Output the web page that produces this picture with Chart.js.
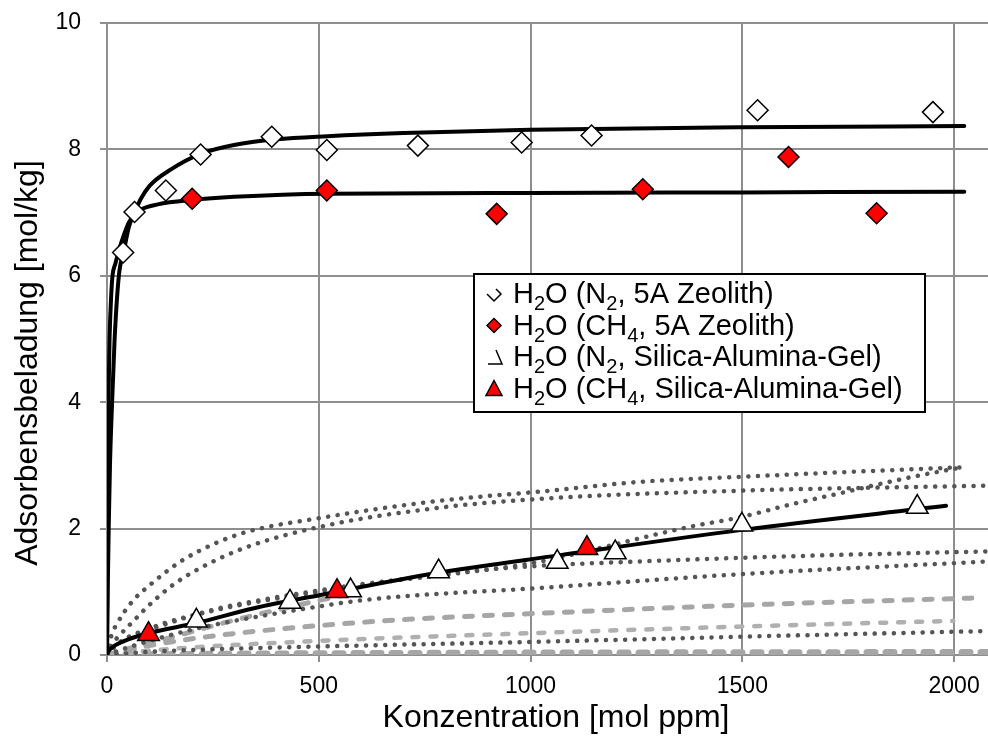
<!DOCTYPE html>
<html>
<head>
<meta charset="utf-8">
<script src="https://cdn.jsdelivr.net/npm/chart.js@4.4.0/dist/chart.umd.min.js"></script>
<style>
  html, body { margin: 0; padding: 0; background: #fff; overflow: hidden; }
  #wrap { width: 988px; height: 744px; overflow: hidden; }
</style>
</head>
<body>
<div id="wrap"><canvas id="myChart" width="1002" height="744"></canvas></div>
<script>
// legend labels, "_x" marks a subscript character
const seriesNames = [
  'H_2O (N_2, 5A Zeolith)',
  'H_2O (CH_4, 5A Zeolith)',
  'H_2O (N_2, Silica-Alumina-Gel)',
  'H_2O (CH_4, Silica-Alumina-Gel)'
];
const xTitle = 'Konzentration [mol ppm]';
const yTitle = 'Adsorbensbeladung [mol/kg]';
const xTicks = [0, 500, 1000, 1500, 2000];
const yTicks = [0, 2, 4, 6, 8, 10];

// measured points
const n2ZeoX = [38, 65, 139, 221, 389, 519, 734, 979, 1144, 1536, 1950];
const n2ZeoY = [6.37, 7.01, 7.35, 7.92, 8.20, 7.99, 8.06, 8.11, 8.22, 8.62, 8.59];
const ch4ZeoX = [201, 519, 920, 1265, 1609, 1817];
const ch4ZeoY = [7.22, 7.35, 6.98, 7.37, 7.88, 6.99];
const n2GelX = [211, 432, 575, 783, 1063, 1200, 1499, 1913];
const n2GelY = [0.54, 0.84, 1.02, 1.32, 1.47, 1.62, 2.06, 2.34];
const ch4GelX = [98, 543, 1133];
const ch4GelY = [0.33, 1.01, 1.69];

// fitted isotherms (black)
const fitN2ZeoX = [0, 1, 2, 4, 7, 12, 18, 28, 40, 52, 65, 80, 100, 150, 221, 300, 400, 520, 700, 1000, 1500, 2024];
const fitN2ZeoY = [0, 0.6, 1.15, 2.0, 3.0, 4.0, 5.0, 6.0, 6.4, 6.78, 7.0, 7.22, 7.42, 7.68, 7.93, 8.07, 8.16, 8.21, 8.26, 8.31, 8.35, 8.37];
const fitCh4ZeoX = [0, 0.5, 1, 2, 3.4, 6, 10, 13, 20, 28, 40, 52, 65, 80, 120, 201, 300, 519, 1000, 1500, 2024];
const fitCh4ZeoY = [0, 1.1, 2.0, 3.2, 4.0, 5.0, 5.7, 6.0, 6.2, 6.4, 6.65, 6.85, 6.97, 7.05, 7.13, 7.2, 7.25, 7.3, 7.31, 7.32, 7.33];
const fitGelX = [0, 3, 10, 40, 95, 213, 347, 504, 771, 1070, 1499, 1981];
const fitGelY = [0, 0.05, 0.11, 0.22, 0.34, 0.51, 0.74, 0.95, 1.29, 1.58, 1.98, 2.36];

// other isotherms, dark dotted
const dotAX = [0, 10, 24, 60, 100, 174, 250, 331, 496, 771, 1046, 1259, 1499, 1731, 2018];
const dotAY = [0, 0.3, 0.5, 0.85, 1.1, 1.48, 1.75, 1.95, 2.16, 2.43, 2.6, 2.74, 2.82, 2.89, 2.97];
const dotBX = [0, 10, 28, 60, 95, 150, 205, 323, 504, 771, 1046, 1495, 2080];
const dotBY = [0, 0.15, 0.3, 0.52, 0.76, 1.08, 1.32, 1.69, 2.03, 2.32, 2.48, 2.6, 2.68];
const dotCX = [0, 30, 123, 253, 363, 497, 600, 800, 1000, 1144, 1260, 1377, 1495, 1613, 1731, 1888, 2018];
const dotCY = [0, 0.2, 0.45, 0.72, 0.87, 1.02, 1.12, 1.27, 1.45, 1.66, 1.85, 2.03, 2.18, 2.38, 2.56, 2.8, 2.97];
const dotDX = [0, 20, 100, 250, 500, 849, 1046, 1259, 1600, 2080];
const dotDY = [0, 0.15, 0.42, 0.7, 1.0, 1.32, 1.42, 1.48, 1.56, 1.64];
const dotEX = [0, 50, 200, 456, 621, 1022, 1500, 2080];
const dotEY = [0, 0.12, 0.4, 0.72, 0.88, 1.06, 1.28, 1.48];
const dotFX = [0, 100, 300, 600, 1022, 1500, 2080];
const dotFY = [0, 0.05, 0.1, 0.15, 0.21, 0.29, 0.38];

// other isotherms, light grey dashed
const dashAX = [0, 100, 250, 456, 700, 1022, 1500, 2042];
const dashAY = [0, 0.15, 0.3, 0.44, 0.56, 0.66, 0.79, 0.9];
const dashBX = [0, 50, 141, 300, 471, 560];
const dashBY = [0, 0.1, 0.26, 0.55, 0.82, 0.95];
const dashCX = [0, 100, 456, 1022, 1500, 1998];
const dashCY = [0, 0.07, 0.21, 0.35, 0.45, 0.54];
const dashDX = [0, 500, 1000, 2080];
const dashDY = [0, 0.02, 0.03, 0.04];

const pts = (xs, ys) => xs.map((x, i) => ({ x: x, y: ys[i] }));

const marker = (data, style, fill, r) => ({
  data: data, showLine: false, pointStyle: style, pointRadius: r, pointHoverRadius: r,
  backgroundColor: fill, borderColor: '#000', pointBorderWidth: 1.5
});
const curve = (data, color, width, dash) => ({
  data: data, showLine: true, pointRadius: 0, borderColor: color, borderWidth: width,
  borderDash: dash, borderCapStyle: 'round', cubicInterpolationMode: 'monotone', fill: false
});

const DOT = [0.1, 9.5];
const DASH = [8, 12];
const FONT = '"Liberation Sans", Arial, sans-serif';

// axis titles and the legend with subscripts
const textPlugin = {
  id: 'textPlugin',
  afterDraw(chart) {
    const ctx = chart.ctx;
    ctx.save();
    ctx.fillStyle = '#000';
    ctx.font = '32px ' + FONT;
    ctx.textAlign = 'center';
    ctx.textBaseline = 'middle';
    ctx.fillText(xTitle, 556, 718);
    ctx.translate(28, 363);
    ctx.rotate(-Math.PI / 2);
    ctx.fillText(yTitle, 0, 0);
    ctx.restore();

    ctx.save();
    ctx.fillStyle = '#fff';
    ctx.fillRect(474, 274, 451, 138);
    ctx.lineWidth = 2;
    ctx.strokeStyle = '#000';
    ctx.strokeRect(474, 274, 451, 138);

    const baselines = [303, 334.5, 366, 397.5];
    baselines.forEach((b, i) => {
      // markers, drawn the way the original legend shows them
      const mx = 494, my = b - 9;
      ctx.lineWidth = 1.5;
      ctx.strokeStyle = '#000';
      ctx.beginPath();
      if (i === 0) {
        ctx.moveTo(mx - 7, my); ctx.lineTo(mx, my + 7); ctx.lineTo(mx + 7, my); ctx.lineTo(mx + 2, my - 5);
        ctx.stroke();
      } else if (i === 1) {
        ctx.moveTo(mx, my - 7); ctx.lineTo(mx + 7, my); ctx.lineTo(mx, my + 7); ctx.lineTo(mx - 7, my); ctx.closePath();
        ctx.fillStyle = '#ff0000'; ctx.fill(); ctx.stroke();
      } else if (i === 2) {
        ctx.moveTo(mx + 2, my - 7); ctx.lineTo(mx + 8, my + 7); ctx.lineTo(mx - 6, my + 7);
        ctx.stroke();
      } else {
        ctx.moveTo(mx, my - 8); ctx.lineTo(mx + 8, my + 7); ctx.lineTo(mx - 8, my + 7); ctx.closePath();
        ctx.fillStyle = '#ff0000'; ctx.fill(); ctx.stroke();
      }
      // label with subscripts
      let x = 513;
      ctx.fillStyle = '#000';
      ctx.textBaseline = 'alphabetic';
      const s = seriesNames[i];
      for (let k = 0; k < s.length; k++) {
        if (s[k] === '_') {
          k++;
          ctx.font = '20px ' + FONT;
          ctx.fillText(s[k], x, b + 7);
          x += ctx.measureText(s[k]).width;
        } else {
          ctx.font = '29px ' + FONT;
          ctx.fillText(s[k], x, b);
          x += ctx.measureText(s[k]).width;
        }
      }
    });
    ctx.restore();
  }
};

const gridColor = '#8e8e8e';
const tickFont = { family: FONT, size: 23 };

new Chart(document.getElementById('myChart'), {
  type: 'scatter',
  data: {
    datasets: [
      marker(pts(ch4GelX, ch4GelY), 'triangle', '#ff0000', 12.5),
      marker(pts(n2GelX, n2GelY), 'triangle', '#ffffff', 12.5),
      marker(pts(ch4ZeoX, ch4ZeoY), 'rectRot', '#ff0000', 10.5),
      marker(pts(n2ZeoX, n2ZeoY), 'rectRot', '#ffffff', 10.5),
      curve(pts(fitN2ZeoX, fitN2ZeoY), '#000', 4, []),
      curve(pts(fitCh4ZeoX, fitCh4ZeoY), '#000', 4, []),
      curve(pts(fitGelX, fitGelY), '#000', 4, []),
      curve(pts(dotAX, dotAY), '#555555', 4.5, DOT),
      curve(pts(dotBX, dotBY), '#555555', 4.5, DOT),
      curve(pts(dotCX, dotCY), '#555555', 4.5, DOT),
      curve(pts(dotDX, dotDY), '#555555', 4.5, DOT),
      curve(pts(dotEX, dotEY), '#555555', 4.5, DOT),
      curve(pts(dotFX, dotFY), '#555555', 4.5, DOT),
      curve(pts(dashAX, dashAY), '#a6a6a6', 5, DASH),
      curve(pts(dashBX, dashBY), '#a6a6a6', 5, DASH),
      curve(pts(dashCX, dashCY), '#b0b0b0', 4.5, [6, 12]),
      curve(pts(dashDX, dashDY), '#a6a6a6', 7, [8, 11])
    ]
  },
  options: {
    responsive: false,
    animation: false,
    layout: { padding: { top: 23, right: 0, left: 0, bottom: 0 } },
    plugins: { legend: { display: false }, tooltip: { enabled: false } },
    scales: {
      x: {
        type: 'linear', min: 0, max: 2080,
        afterBuildTicks: (s) => { s.ticks = xTicks.map(v => ({ value: v })); },
        afterFit: (s) => { s.height = 89; s.paddingLeft = 0; s.paddingRight = 0; },
        grid: { color: gridColor, lineWidth: 2, tickLength: 7 },
        border: { color: gridColor, width: 2 },
        ticks: { color: '#000', font: tickFont, padding: 11, maxRotation: 0, callback: (v) => String(v) }
      },
      y: {
        type: 'linear', min: 0, max: 10,
        afterBuildTicks: (s) => { s.ticks = yTicks.map(v => ({ value: v })); },
        afterFit: (s) => { s.width = 107; s.paddingTop = 0; s.paddingBottom = 0; },
        grid: { color: gridColor, lineWidth: 2, tickLength: 7 },
        border: { color: gridColor, width: 2 },
        ticks: { color: '#000', font: tickFont, padding: 19, callback: (v) => String(v) }
      }
    }
  },
  plugins: [textPlugin]
});
</script>
</body>
</html>
